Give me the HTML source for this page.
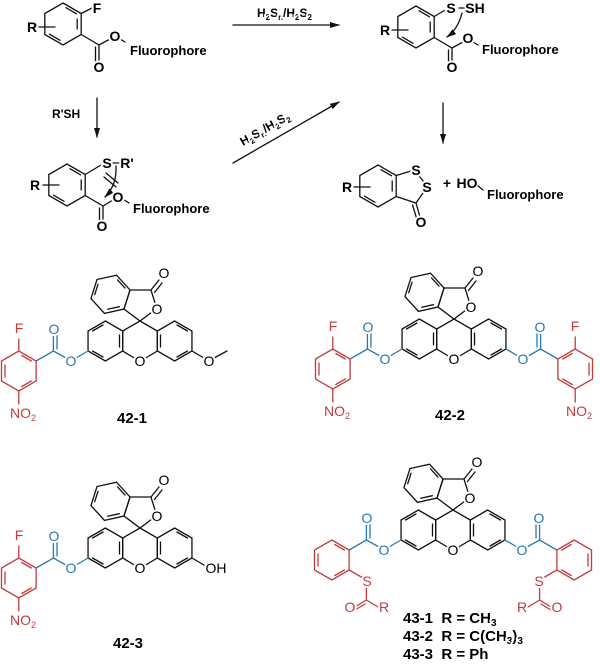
<!DOCTYPE html>
<html><head><meta charset="utf-8"><style>
html,body{margin:0;padding:0;background:#fff;}
svg{display:block;}
text{font-family:"Liberation Sans",Arial,sans-serif;paint-order:stroke;stroke:#fff;stroke-width:4px;stroke-linejoin:round;}
.b{font-weight:bold;}
.l{fill:none;stroke:#111;stroke-width:1.3;stroke-linecap:round;}
.r{fill:none;stroke:#c23b3b;stroke-width:1.3;stroke-linecap:round;}
.u{fill:none;stroke:#2a78b5;stroke-width:1.3;stroke-linecap:round;}
.ta{font-size:14px;text-anchor:middle;dominant-baseline:central;}
.tr{fill:#c23b3b;} .tu{fill:#2a78b5;}
</style></head><body>
<svg width="600" height="671" viewBox="0 0 600 671" xmlns="http://www.w3.org/2000/svg">
<defs>
<marker id="ah" markerWidth="10" markerHeight="8" refX="9" refY="4" orient="auto" markerUnits="userSpaceOnUse"><path d="M0,1 L10,4 L0,7 Z" fill="#111"/></marker>
<g id="hex21"><polygon class="l" points="0,-21 18.19,-10.5 18.19,10.5 0,21 -18.19,10.5 -18.19,-10.5"/>
<line class="l" x1="3" y1="-16.3" x2="13.5" y2="-10.2"/><line class="l" x1="14.2" y1="-5" x2="14.2" y2="5"/><line class="l" x1="-3" y1="16.3" x2="-13.5" y2="10.2"/></g>
<g id="core">
<polyline class="l" points="-4,18 -17.32,10 -17.32,-10 0,-20 17.32,-10 17.32,10 4,18"/>
<polygon class="l" points="-34.64,-20 -17.32,-10 -17.32,10 -34.64,20 -51.96,10 -51.96,-10"/>
<polygon class="l" points="34.64,-20 17.32,-10 17.32,10 34.64,20 51.96,10 51.96,-10"/>
<line class="l" x1="-20.5" y1="-6" x2="-20.5" y2="6"/><line class="l" x1="-37" y1="16" x2="-47.5" y2="10"/><line class="l" x1="-37" y1="-16" x2="-47.5" y2="-10"/>
<line class="l" x1="20.5" y1="-6" x2="20.5" y2="6"/><line class="l" x1="37" y1="16" x2="47.5" y2="10"/><line class="l" x1="37" y1="-16" x2="47.5" y2="-10"/>
<polyline class="l" points="12,-29 0,-20 -16,-32 -10,-51 11,-51 15,-38"/>
<line class="l" x1="11" y1="-51" x2="19" y2="-61"/><line class="l" x1="14.5" y1="-48.5" x2="22" y2="-58"/>
<g transform="translate(-29.5,-46.7) rotate(77.6)">
<polygon class="l" points="0,-20 17.32,-10 17.32,10 0,20 -17.32,10 -17.32,-10"/>
<line class="l" x1="14" y1="-6" x2="14" y2="6"/><line class="l" x1="-3" y1="15.5" x2="-12.5" y2="10"/><line class="l" x1="-12.5" y1="-10" x2="-3" y2="-15.5"/>
</g>
</g>
<g id="nitroL">
<line class="u" x1="-51.96" y1="10" x2="-64" y2="17"/>
<polyline class="u" points="-74,17 -86.6,10 -103.9,20"/>
<line class="u" x1="-86.6" y1="10" x2="-86.6" y2="-6"/><line class="u" x1="-83" y1="8" x2="-83" y2="-6"/>
<g transform="translate(-121.2,30)"><polygon class="r" points="0,-20 17.32,-10 17.32,10 0,20 -17.32,10 -17.32,-10"/>
<line class="r" x1="-13.8" y1="-6" x2="-13.8" y2="6"/><line class="r" x1="3" y1="-15.5" x2="12.5" y2="-10"/><line class="r" x1="3" y1="15.5" x2="12.5" y2="10"/>
<line class="r" x1="0" y1="-20" x2="0" y2="-32"/><line class="r" x1="0" y1="20" x2="0" y2="33"/></g>
</g>
<g id="thioL">
<line class="u" x1="-51.96" y1="10" x2="-64" y2="17"/>
<polyline class="u" points="-74,17 -86.6,10 -103.9,20"/>
<line class="u" x1="-86.6" y1="10" x2="-86.6" y2="-6"/><line class="u" x1="-83" y1="8" x2="-83" y2="-6"/>
<g transform="translate(-121.2,30)"><polygon class="r" points="0,-20 17.32,-10 17.32,10 0,20 -17.32,10 -17.32,-10"/>
<line class="r" x1="-13.8" y1="-6" x2="-13.8" y2="6"/><line class="r" x1="3" y1="-15.5" x2="12.5" y2="-10"/><line class="r" x1="3" y1="15.5" x2="12.5" y2="10"/></g>
<line class="r" x1="-103.9" y1="40" x2="-90" y2="48"/>
<line class="r" x1="-86.6" y1="56" x2="-86.6" y2="70"/>
<line class="r" x1="-86.6" y1="70" x2="-98" y2="77"/><line class="r" x1="-88" y1="74" x2="-98" y2="80"/>
<line class="r" x1="-86.6" y1="70" x2="-75" y2="77"/>
</g>
</defs>

<g transform="translate(63,24)">
<use href="#hex21"/>
<line class="l" x1="18.19" y1="-10.5" x2="31" y2="-17"/>
<polyline class="l" points="18.19,10.5 36,21 47,15"/>
<line class="l" x1="36" y1="21" x2="36" y2="37"/><line class="l" x1="32.5" y1="23" x2="32.5" y2="37"/>
<line class="l" x1="-24" y1="3" x2="-8" y2="3"/>
<line class="l" x1="57" y1="15" x2="62" y2="18"/>
</g>
<text class="ta b" x="97" y="8">F</text>
<text class="ta b" x="99" y="67">O</text>
<text class="ta b" x="115" y="36">O</text>
<text class="b" x="130" y="55" font-size="13">Fluorophore</text>
<text class="ta b" x="32" y="27">R</text>

<line class="l" x1="233" y1="25" x2="339" y2="25" marker-end="url(#ah)"/>
<text class="b" x="257" y="17" font-size="12">H<tspan font-size="8" dy="3">2</tspan><tspan dy="-3">S</tspan><tspan font-size="8" dy="3">n</tspan><tspan dy="-3">/H</tspan><tspan font-size="8" dy="3">2</tspan><tspan dy="-3">S</tspan><tspan font-size="8" dy="3">2</tspan></text>

<line class="l" x1="97" y1="98" x2="97" y2="137" marker-end="url(#ah)"/>
<text class="b" x="52" y="118" font-size="12">R'SH</text>

<line class="l" x1="233" y1="163" x2="339" y2="102" marker-end="url(#ah)"/>
<text class="b" font-size="12" transform="translate(243,146) rotate(-30)">H<tspan font-size="8" dy="3">2</tspan><tspan dy="-3">S</tspan><tspan font-size="8" dy="3">n</tspan><tspan dy="-3">/H</tspan><tspan font-size="8" dy="3">2</tspan><tspan dy="-3">S</tspan><tspan font-size="8" dy="3">2</tspan></text>

<g transform="translate(67,185)">
<use href="#hex21"/>
<line class="l" x1="18.19" y1="-10.5" x2="34" y2="-20"/>
<polyline class="l" points="18.19,10.5 36,21 46,15"/>
<line class="l" x1="36" y1="21" x2="36" y2="37"/><line class="l" x1="32.5" y1="23" x2="32.5" y2="37"/>
<line class="l" x1="-24" y1="0" x2="-8" y2="0"/>
<line class="l" x1="46" y1="-22" x2="52" y2="-22"/>
<path class="l" d="M49,-19 Q50,0 38,12" marker-end="url(#ah)"/>
<line class="l" x1="39" y1="-12" x2="51" y2="-2"/><line class="l" x1="37" y1="-8" x2="49" y2="2"/>
<line class="l" x1="57" y1="15" x2="62" y2="18"/>
</g>
<text class="ta b" x="107" y="163">S</text>
<text class="ta b" x="127" y="163">R'</text>
<text class="ta b" x="35" y="185">R</text>
<text class="ta b" x="118" y="197">O</text>
<text class="b" x="133" y="213" font-size="13">Fluorophore</text>
<text class="ta b" x="102" y="226">O</text>

<g transform="translate(416,27)">
<use href="#hex21"/>
<line class="l" x1="18.19" y1="-10.5" x2="31" y2="-18"/>
<polyline class="l" points="18.19,10.5 36,21 47,15"/>
<line class="l" x1="36" y1="21" x2="36" y2="37"/><line class="l" x1="32.5" y1="23" x2="32.5" y2="37"/>
<line class="l" x1="-24" y1="3" x2="-8" y2="3"/>
<line class="l" x1="43" y1="-19" x2="49" y2="-19"/>
<path class="l" d="M46,-14 Q42,2 31,10" marker-end="url(#ah)"/>
<line class="l" x1="57" y1="15" x2="62" y2="18"/>
</g>
<text class="ta b" x="451" y="8">S</text>
<text class="ta b" x="475" y="8">SH</text>
<text class="ta b" x="385" y="30">R</text>
<text class="ta b" x="452" y="67">O</text>
<text class="ta b" x="468" y="38">O</text>
<text class="b" x="482" y="54" font-size="13">Fluorophore</text>

<line class="l" x1="443" y1="103" x2="443" y2="143" marker-end="url(#ah)"/>

<g transform="translate(378,186)">
<use href="#hex21"/>
<line class="l" x1="18.19" y1="-10.5" x2="33" y2="-15"/>
<line class="l" x1="41" y1="-10" x2="46" y2="-4"/>
<line class="l" x1="18.19" y1="10.5" x2="38" y2="17"/>
<line class="l" x1="38" y1="17" x2="45" y2="7"/>
<line class="l" x1="38" y1="17" x2="42" y2="31"/><line class="l" x1="34.5" y1="19" x2="38.5" y2="32"/>
<line class="l" x1="-24" y1="1" x2="-8" y2="1"/>
</g>
<text class="ta b" x="416" y="170">S</text>
<text class="ta b" x="427" y="187">S</text>
<text class="ta b" x="421" y="222">O</text>
<text class="ta b" x="347" y="187">R</text>
<text class="ta b" x="447" y="183">+</text>
<text class="ta b" x="467" y="183">HO</text>
<line class="l" x1="478" y1="186" x2="483" y2="190"/>
<text class="b" x="487" y="199" font-size="13">Fluorophore</text>

<g transform="translate(140,341)">
<use href="#core"/><use href="#nitroL"/>
<line class="l" x1="51.96" y1="10" x2="64" y2="17"/>
<line class="l" x1="74" y1="17" x2="87" y2="10"/>
</g>
<text class="ta" x="157" y="309">O</text>
<text class="ta" x="164" y="273">O</text>
<text class="ta" x="140" y="361">O</text>
<text class="ta" x="209" y="361">O</text>
<text class="ta tu" x="71" y="361">O</text>
<text class="ta tu" x="54" y="329">O</text>
<text class="ta tr" x="19" y="328">F</text>
<text class="tr" x="10" y="418" font-size="14">NO<tspan font-size="9" dy="3">2</tspan></text>
<text class="b" x="117" y="423" font-size="15">42-1</text>

<g transform="translate(454,339)">
<use href="#core"/><use href="#nitroL"/><use href="#nitroL" transform="scale(-1,1)"/>
</g>
<text class="ta" x="471" y="307">O</text>
<text class="ta" x="478" y="271">O</text>
<text class="ta" x="454" y="359">O</text>
<text class="ta tu" x="385" y="359">O</text>
<text class="ta tu" x="368" y="327">O</text>
<text class="ta tr" x="333" y="326">F</text>
<text class="tr" x="324" y="416" font-size="14">NO<tspan font-size="9" dy="3">2</tspan></text>
<text class="ta tu" x="523" y="359">O</text>
<text class="ta tu" x="540" y="327">O</text>
<text class="ta tr" x="575" y="326">F</text>
<text class="tr" x="566" y="416" font-size="14">NO<tspan font-size="9" dy="3">2</tspan></text>
<text class="b" x="435" y="420" font-size="15">42-2</text>

<g transform="translate(140,548)">
<use href="#core"/><use href="#nitroL"/>
<line class="l" x1="51.96" y1="10" x2="64" y2="17"/>
</g>
<text class="ta" x="157" y="516">O</text>
<text class="ta" x="164" y="480">O</text>
<text class="ta" x="140" y="568">O</text>
<text class="ta" x="216" y="568">OH</text>
<text class="ta tu" x="71" y="568">O</text>
<text class="ta tu" x="54" y="536">O</text>
<text class="ta tr" x="19" y="535">F</text>
<text class="tr" x="10" y="625" font-size="14">NO<tspan font-size="9" dy="3">2</tspan></text>
<text class="b" x="113" y="648" font-size="15">42-3</text>

<g transform="translate(453,530)">
<use href="#core"/><use href="#thioL"/><use href="#thioL" transform="scale(-1,1)"/>
</g>
<text class="ta" x="470" y="498">O</text>
<text class="ta" x="477" y="462">O</text>
<text class="ta" x="453" y="550">O</text>
<text class="ta tu" x="384" y="550">O</text>
<text class="ta tu" x="367" y="518">O</text>
<text class="ta tu" x="522" y="550">O</text>
<text class="ta tu" x="539" y="518">O</text>
<text class="ta tr" x="367" y="581">S</text>
<text class="ta tr" x="539" y="581">S</text>
<text class="ta tr" x="350" y="607">O</text>
<text class="ta tr" x="384" y="607">R</text>
<text class="ta tr" x="522" y="607">R</text>
<text class="ta tr" x="557" y="607">O</text>
<text class="b" x="403" y="623" font-size="15">43-1&#160;&#160;R = CH<tspan font-size="10" dy="3">3</tspan></text>
<text class="b" x="403" y="641" font-size="15">43-2&#160;&#160;R = C(CH<tspan font-size="10" dy="3">3</tspan><tspan dy="-3">)</tspan><tspan font-size="10" dy="3">3</tspan></text>
<text class="b" x="403" y="659" font-size="15">43-3&#160;&#160;R = Ph</text>
</svg>
</body></html>
